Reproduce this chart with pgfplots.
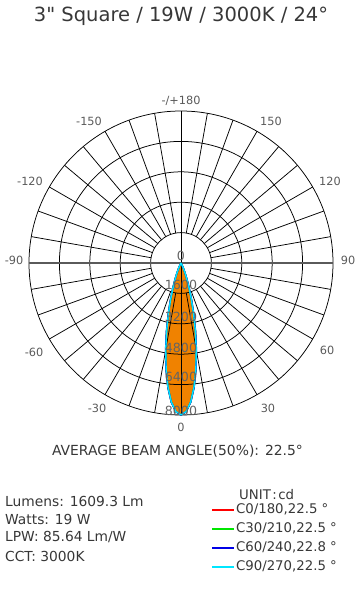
\documentclass[border=0pt]{standalone}
\usepackage{fontspec}
\setmainfont{DejaVu Sans}[Ligatures=TeXOff]
\usepackage{pgfplots}
\usepackage{pgfplotstable}
\pgfplotsset{compat=1.18}
\definecolor{beamfill}{RGB}{240,130,0}
\definecolor{txt}{RGB}{55,55,55}
\definecolor{lbl}{RGB}{90,90,90}
\definecolor{ilbl}{RGB}{100,100,100}
\definecolor{cRed}{RGB}{255,0,0}
\definecolor{cGreen}{RGB}{0,230,0}
\definecolor{cBlue}{RGB}{0,0,230}
\definecolor{cCyan}{RGB}{0,230,255}

\pgfplotstableread{
a r
-130 0
-125 10
-120 58
-115 261
-112 566
-110 895
-108 1359
-106 1969
-104 2735
-102 3635
-100 4626
-98 5635
-96 6568
-94 7329
-92 7825
-90 8000
-88 7825
-86 7329
-84 6568
-82 5635
-80 4626
-78 3635
-76 2735
-74 1969
-72 1359
-70 895
-68 566
-65 261
-60 58
-55 10
-50 0
}\czero
\pgfplotstableread{
a r
-130 0
-125 10
-120 58
-115 262
-112 568
-110 898
-108 1362
-106 1975
-104 2740
-102 3640
-100 4630
-98 5640
-96 6575
-94 7335
-92 7830
-90 8000
-88 7830
-86 7335
-84 6575
-82 5640
-80 4630
-78 3640
-76 2740
-74 1975
-72 1362
-70 898
-68 568
-65 262
-60 58
-55 10
-50 0
}\cthirty
\pgfplotstableread{
a r
-130 0
-125 12
-120 65
-115 280
-112 600
-110 940
-108 1415
-106 2040
-104 2810
-102 3710
-100 4690
-98 5680
-96 6600
-94 7345
-92 7830
-90 8000
-88 7830
-86 7345
-84 6600
-82 5680
-80 4690
-78 3710
-76 2810
-74 2040
-72 1415
-70 940
-68 600
-65 280
-60 65
-55 12
-50 0
}\csixty
\pgfplotstableread{
a r
-130 0
-125 10
-120 57
-115 260
-112 565
-110 894
-108 1358
-106 1968
-104 2734
-102 3634
-100 4624
-98 5632
-96 6565
-94 7325
-92 7820
-90 7990
-88 7820
-86 7325
-84 6565
-82 5632
-80 4624
-78 3634
-76 2734
-74 1968
-72 1358
-70 894
-68 565
-65 260
-60 57
-55 10
-50 0
}\cninety

\begin{document}
\begin{tikzpicture}
\useasboundingbox (-181pt,-331pt) rectangle (182pt,263pt);
\begin{axis}[
  at={(0pt,0pt)}, anchor=center,
  scale only axis, width=304pt, height=304pt,
  xmin=-8000, xmax=8000, ymin=-8000, ymax=8000,
  hide axis, clip=false,
  legend style={at={(0.599,-0.286)}, anchor=north west, draw=none, fill=none,
    font=\fontsize{13.3}{15}\selectfont, row sep=4pt, inner sep=0pt,
    nodes={inner sep=1pt, text height=10pt, text depth=3pt, text=txt}},
  legend cell align=left,
  legend image code/.code={\draw[#1, line width=1.8pt] (0pt,0pt) -- (22pt,0pt);},
]
\addplot[fill=beamfill, draw=none, forget plot, data cs=polar] table {\czero};
\foreach \rr in {1600,3200,4800,6400,8000}{
  \edef\tmp{\noexpand\draw[black, line width=0.75pt] (axis cs:0,0) circle[radius=\rr];}\tmp
}
\pgfplotsinvokeforeach{10,20,30,40,50,60,70,80,100,110,120,130,140,150,160,170,190,200,210,220,230,240,250,260,280,290,300,310,320,330,340,350}{
  \draw[black, line width=0.75pt] (axis cs:{1600*cos(#1)},{1600*sin(#1)}) -- (axis cs:{8000*cos(#1)},{8000*sin(#1)});
}
\draw[lbl, line width=1.3pt] (axis cs:-8000,0) -- (axis cs:8000,0);
\draw[black, line width=0.8pt] (axis cs:0,-8000) -- (axis cs:0,8000);
\addplot[draw=cRed, line width=1.4pt, data cs=polar] table {\czero};
\addlegendentry{C0/180,22.5 °}
\addplot[draw=cGreen, line width=1.4pt, data cs=polar] table {\cthirty};
\addlegendentry{C30/210,22.5 °}
\addplot[draw=cBlue, line width=1.4pt, data cs=polar] table {\csixty};
\addlegendentry{C60/240,22.8 °}
\addplot[draw=cCyan, line width=1.4pt, data cs=polar] table {\cninety};
\addlegendentry{C90/270,22.5 °}
\end{axis}
\node[text=txt, font=\fontsize{19.5}{22}\selectfont] at (0pt,247pt) {3" Square / 19W / 3000K / 24°};
\begin{scope}[every node/.style={text=lbl, font=\fontsize{11.3}{14}\selectfont}]
\node at (0pt,162pt) {-/+180};
\node at (-92pt,142pt) {-150};
\node at (90pt,142pt) {150};
\node at (-151pt,82pt) {-120};
\node at (149pt,82pt) {120};
\node at (-167pt,3pt) {-90};
\node at (167pt,3pt) {90};
\node at (-147pt,-89pt) {-60};
\node at (146pt,-87pt) {60};
\node at (-84pt,-145pt) {-30};
\node at (87pt,-145pt) {30};
\node at (0pt,-164pt) {0};
\end{scope}
\begin{scope}[every node/.style={text=ilbl, font=\fontsize{12.6}{15}\selectfont}]
\node at (0pt,7pt) {0};
\node at (0pt,-22pt) {1600};
\node at (0pt,-54pt) {3200};
\node at (0pt,-85pt) {4800};
\node at (0pt,-114pt) {6400};
\node at (0pt,-148pt) {8000};
\end{scope}
\node[text=txt, font=\fontsize{13.9}{16}\selectfont] at (-3.5pt,-188pt) {AVERAGE BEAM ANGLE(50\%): 22.5°};
\begin{scope}[every node/.style={text=txt, font=\fontsize{13.8}{16}\selectfont, anchor=west, inner sep=0pt}]
\node at (-176pt,-238pt) {Lumens: 1609.3 Lm};
\node at (-176pt,-256pt) {Watts: 19 W};
\node at (-176pt,-274pt) {LPW: 85.64 Lm/W};
\node at (-176pt,-293pt) {CCT: 3000K};
\node[font=\fontsize{13.3}{15}\selectfont] at (58pt,-232pt) {UNIT\hspace{1.5pt}:\hspace{1.5pt}cd};
\end{scope}
\end{tikzpicture}
\end{document}
